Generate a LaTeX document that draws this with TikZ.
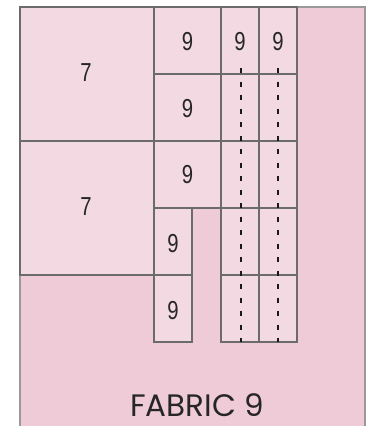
\documentclass[tikz,border=0pt]{standalone}
\usepackage{fontspec}
\setmainfont{Liberation Sans}
\newfontfamily\titlefont{Poppins}
\newcommand{\nm}[1]{\scalebox{0.78}[1]{#1}}
\begin{document}
\begin{tikzpicture}[x=1pt,y=-1pt,
  piece/.style={draw=black!58, line width=1.2pt, fill=inpink},
  num/.style={font=\fontsize{26}{26}\selectfont, text=black!85, inner sep=0pt},
  seam/.style={draw=black!90, line width=2pt, dash pattern=on 5pt off 8.5pt}]
\definecolor{inpink}{HTML}{F3D9E2}
\definecolor{outpink}{HTML}{EFCAD7}
\useasboundingbox (0,0) rectangle (371,426);
\fill[outpink] (20,7) rectangle (365,430);
\draw[black!40, line width=1.2pt] (20,430) -- (20,7) -- (365,7) -- (365,430);
% large pieces
\draw[piece] (20,7) rectangle (154,141);
\draw[piece] (20,141) rectangle (154,275);
% column of 9s
\draw[piece] (154,7) rectangle (221,74);
\draw[piece] (154,74) rectangle (221,141);
\draw[piece] (154,141) rectangle (221,208);
\draw[piece] (154,208) rectangle (192,275);
\draw[piece] (154,275) rectangle (192,342);
% narrow columns
\foreach \y in {7,74,141,208,275} {
  \draw[piece] (221,\y) rectangle (259,\y+67);
  \draw[piece] (259,\y) rectangle (297,\y+67);
}
\node[num] (a) at (86,73) {\nm{7}};
\node[num] (b) at (86,207) {\nm{7}};
\node[num] (c) at (187.5,42) {\nm{9}};
\node[num] (d) at (187.5,109) {\nm{9}};
\node[num] (e) at (187.5,175) {\nm{9}};
\node[num] (f) at (173,244) {\nm{9}};
\node[num] (g) at (173,311) {\nm{9}};
\node[num] (h) at (240,42) {\nm{9}};
\node[num] (i) at (278,42) {\nm{9}};
\coordinate (s1t) at (241,68);
\coordinate (s1b) at (241,342);
\coordinate (s2t) at (277.5,68);
\coordinate (s2b) at (277.5,342);
\draw[seam] (s1t) -- (s1b);
\draw[seam] (s2t) -- (s2b);
\node[font=\titlefont\fontsize{31}{31}\selectfont, text=black!85, inner sep=0pt] (t) at (197,405) {FABRIC 9};
\end{tikzpicture}
\end{document}
